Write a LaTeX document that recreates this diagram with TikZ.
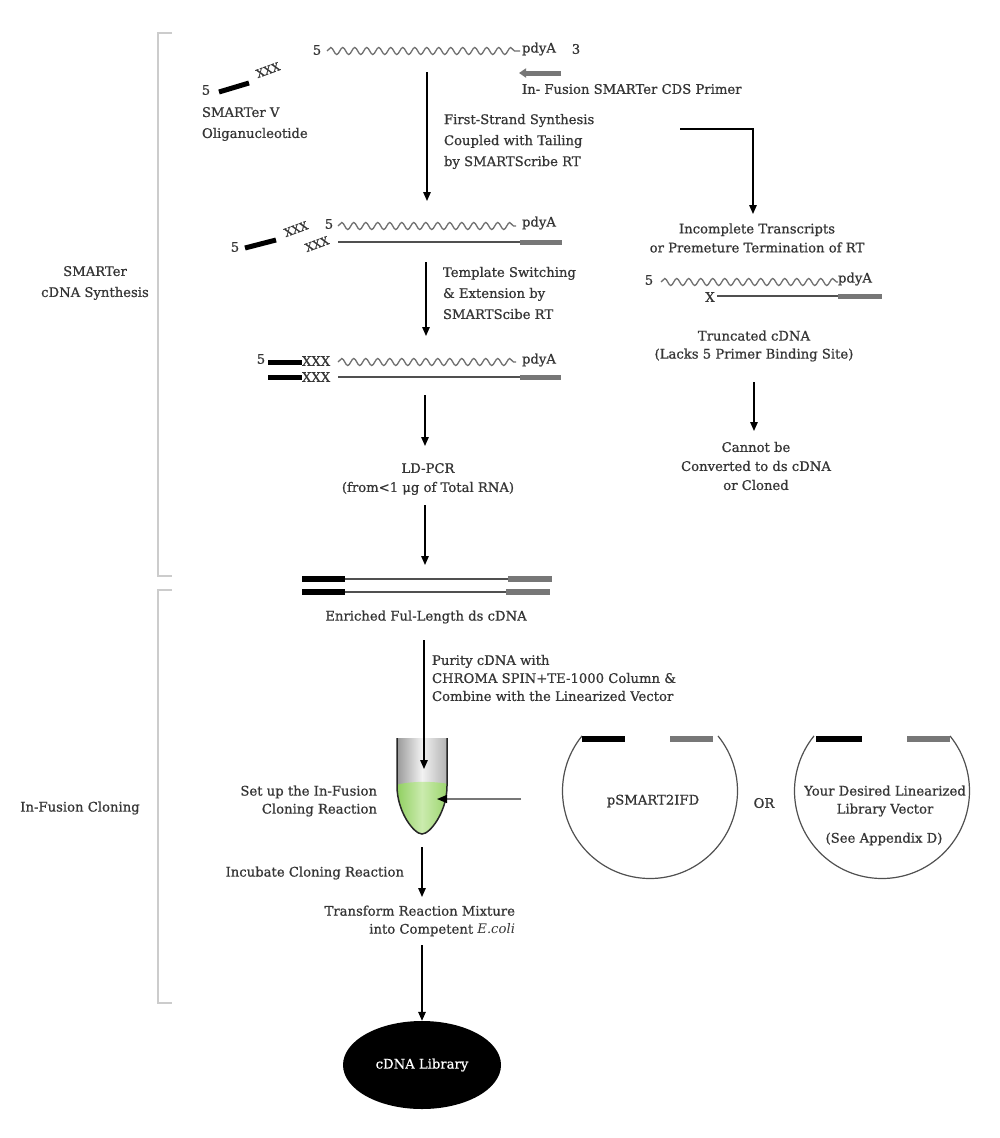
\documentclass[tikz,border=0pt]{standalone}
\usepackage{fontspec}
\setmainfont{DejaVu Serif}[BoldFont={DejaVu Serif}, BoldFeatures={FakeBold=0.7}]
\usetikzlibrary{arrows.meta,decorations.pathmorphing,shapes.geometric}
\definecolor{txt}{HTML}{353535}
\definecolor{wav}{HTML}{707070}
\definecolor{gbar}{HTML}{777777}
\definecolor{brk}{HTML}{CCCCCC}
\definecolor{strand}{HTML}{505050}
\definecolor{tubeA}{HTML}{969696}
\definecolor{tubeB}{HTML}{F2F2F2}
\definecolor{tubeC}{HTML}{B0B0B0}
\definecolor{liqA}{HTML}{8ECE5E}
\definecolor{liqB}{HTML}{CBEBAE}
\definecolor{liqC}{HTML}{9AD46C}
\begin{document}
\begin{tikzpicture}[x=1pt,y=-1pt,
  t/.style={font=\fontsize{13.2}{18}\selectfont\bfseries, text=txt, inner sep=0pt, outer sep=0pt},
  t21/.style={t, font=\fontsize{13.2}{21}\selectfont\bfseries},
  t19/.style={t, font=\fontsize{13.2}{19}\selectfont\bfseries},
  tx/.style={t, font=\fontsize{11.5}{13}\selectfont\bfseries, rotate=20},
  arr/.style={draw=black, line width=1.4pt, -{Triangle[length=9pt,width=7.5pt]}},
  wave/.style={draw=wav, line width=1.3pt, decorate, decoration={snake, segment length=12pt, amplitude=3.5pt}},
  bk/.style={line width=5pt, draw=black},
  gb/.style={line width=5pt, draw=gbar},
  strandline/.style={line width=1.2pt, draw=strand},
  brkt/.style={draw=brk, line width=2pt},
  ring/.style={draw=strand, line width=1.2pt},
]
\useasboundingbox (0,0) rectangle (1000,1138);
\fill[white] (0,0) rectangle (1000,1138);

% brackets and section labels
\draw[brkt] (172,33) -- (158,33) -- (158,576) -- (172,576);
\draw[brkt] (172,590) -- (158,590) -- (158,1003) -- (172,1003);
\node[t21, align=center] (secA) at (95,283) {SMARTer\\cDNA Synthesis};
\node[t] (secB) at (80,808) {In-Fusion Cloning};

% ---- top RNA
\node[t] (r5) at (317,50) {5};
\coordinate (rw1) at (327,51);
\coordinate (rw2) at (520,51);
\draw[wave] (rw1) -- (rw2);
\node[t, anchor=west] (rpoly) at (522,49) {pdyA};
\node[t] (r3) at (576,49) {3};
% CDS primer
\coordinate (cds1) at (561,73);
\coordinate (cds2) at (519,73);
\draw[gb, -{Triangle[length=7pt,width=9pt]}] (cds1) -- (cds2);
\node[t, anchor=west] (cdsl) at (522,89) {In- Fusion SMARTer CDS Primer};
% SMARTer V oligo
\node[t] (o5) at (206,90) {5};
\coordinate (ob1) at (219,92);
\coordinate (ob2) at (249,83);
\draw[bk] (ob1) -- (ob2);
\node[tx] (ox) at (268,70) {XXX};
\node[t21, align=left, anchor=west] (olab) at (202,124) {SMARTer V\\Oliganucleotide};

% step 1
\coordinate (a1s) at (427,72);
\coordinate (a1e) at (427,201);
\draw[arr] (a1s) -- (a1e);
\node[t21, align=left, anchor=west] (s1lab) at (444,141.5) {First-Strand Synthesis\\Coupled with Tailing\\by SMARTScribe RT};
\coordinate (b1) at (680,129);
\coordinate (b2) at (753,214);
\draw[arr] (b1) -| (b2);

% ---- stage 2
\node[t] (s2a5) at (235,247) {5};
\coordinate (s2b1) at (245,248);
\coordinate (s2b2) at (276,240);
\draw[bk] (s2b1) -- (s2b2);
\node[tx] (s2x1) at (296,229) {XXX};
\node[tx] (s2x2) at (317,244) {XXX};
\node[t] (s2t5) at (329,224) {5};
\coordinate (s2w1) at (338,226);
\coordinate (s2w2) at (516,226);
\draw[wave] (s2w1) -- (s2w2);
\node[t, anchor=west] (s2poly) at (522,223) {pdyA};
\coordinate (s2l1) at (338,242);
\coordinate (s2l2) at (520,242);
\coordinate (s2l3) at (562,242);
\draw[strandline] (s2l1) -- (s2l2);
\draw[gb] (s2l2) -- (s2l3);

% step 2
\coordinate (a2s) at (426,262);
\coordinate (a2e) at (426,336);
\draw[arr] (a2s) -- (a2e);
\node[t21, align=left, anchor=west] (s2lab) at (443,293) {Template Switching\\\& Extension by\\SMARTScibe RT};

% ---- stage 3
\node[t] (s3a5) at (261,359) {5};
\coordinate (s3b1) at (268,362);
\coordinate (s3b2) at (302,362);
\draw[bk] (s3b1) -- (s3b2);
\node[t, anchor=west] (s3x1) at (302,361) {XXX};
\coordinate (s3w1) at (338,362);
\coordinate (s3w2) at (516,362);
\draw[wave] (s3w1) -- (s3w2);
\node[t, anchor=west] (s3poly) at (522,360) {pdyA};
\coordinate (s3c1) at (268,377);
\coordinate (s3c2) at (302,377);
\draw[bk] (s3c1) -- (s3c2);
\node[t, anchor=west] (s3x2) at (302,377) {XXX};
\coordinate (s3l1) at (338,377);
\coordinate (s3l2) at (520,377);
\coordinate (s3l3) at (561,377);
\draw[strandline] (s3l1) -- (s3l2);
\draw[gb] (s3l2) -- (s3l3);

% LD-PCR
\coordinate (a3s) at (425,395);
\coordinate (a3e) at (425,446);
\draw[arr] (a3s) -- (a3e);
\node[t19, align=center] (ldpcr) at (428,479) {LD-PCR\\(from<1 μg of Total RNA)};
\coordinate (a4s) at (425,505);
\coordinate (a4e) at (425,565);
\draw[arr] (a4s) -- (a4e);

% enriched ds cDNA
\coordinate (e1a) at (302,579);
\coordinate (e1b) at (345,579);
\coordinate (e1c) at (508,579);
\coordinate (e1d) at (552,579);
\draw[bk, line width=6pt] (e1a) -- (e1b);
\draw[strandline] (e1b) -- (e1c);
\draw[gb, line width=6pt] (e1c) -- (e1d);
\coordinate (e2a) at (302,592);
\coordinate (e2b) at (345,592);
\coordinate (e2c) at (506,592);
\coordinate (e2d) at (550,592);
\draw[bk, line width=6pt] (e2a) -- (e2b);
\draw[strandline] (e2b) -- (e2c);
\draw[gb, line width=6pt] (e2c) -- (e2d);
\node[t] (enr) at (426,617) {Enriched Ful-Length ds cDNA};

% purify
\coordinate (a5s) at (424,640);
\coordinate (a5e) at (424,769);
\node[t, align=left, anchor=west] (pur) at (432,678) {Purity cDNA with\\CHROMA SPIN+TE-1000 Column \&\\Combine with the Linearized Vector};

% tube
\begin{scope}
  \clip (397,738) -- (397,786) .. controls (397,812) and (414,834) .. (422,834) .. controls (430,834) and (447,812) .. (447,786) -- (447,738) -- cycle;
  \shade[left color=tubeA, right color=tubeC, middle color=tubeB] (396,737) rectangle (448,785);
  \shade[left color=liqA, right color=liqC, middle color=liqB] (396,785) .. controls (410,781) and (434,781) .. (448,784) -- (448,836) -- (396,836) -- cycle;
\end{scope}
\draw[line width=1.5pt, draw=black!85] (397,738) -- (397,786) .. controls (397,812) and (414,834) .. (422,834) .. controls (430,834) and (447,812) .. (447,786) -- (447,738);
\draw[arr] (a5s) -- (a5e);
\coordinate (vin1) at (521,799);
\coordinate (vin2) at (437,799);
\draw[draw=gbar, line width=1.4pt, -{Triangle[length=10pt,width=8pt,color=black]}] (vin1) -- (vin2);
\node[t, align=right, anchor=east] (setup) at (377,801) {Set up the In-Fusion\\Cloning Reaction};

% incubate / transform
\coordinate (a6s) at (422,847);
\coordinate (a6e) at (422,897);
\draw[arr] (a6s) -- (a6e);
\node[t, anchor=east] (incub) at (404,873) {Incubate Cloning Reaction};
\node[t, align=right, anchor=east] (transf) at (515,921) {Transform Reaction Mixture\\into Competent \mdseries\itshape E.coli};
\node[ellipse, fill=black, minimum width=158pt, minimum height=88pt, inner sep=0pt, text=white, font=\fontsize{13.2}{15}\selectfont\bfseries] (lib) at (422,1065) {cDNA Library};
\coordinate (a7s) at (422,945);
\draw[arr] (a7s) -- (lib.north);

% plasmid 1
\coordinate (p1c) at (650,791);
\draw[ring] (p1c) ++(-39:87.5) arc[start angle=-39, end angle=219, radius=87.5];
\coordinate (p1a) at (582,739);
\coordinate (p1b) at (625,739);
\coordinate (p1d) at (670,739);
\coordinate (p1e) at (713,739);
\draw[bk, line width=6pt] (p1a) -- (p1b);
\draw[gb, line width=6pt] (p1d) -- (p1e);
\node[t] (p1lab) at (653,801) {pSMART2IFD};
\node[t] (orl) at (764,803) {OR};

% plasmid 2
\coordinate (p2c) at (882,791);
\draw[ring] (p2c) ++(-39:87.5) arc[start angle=-39, end angle=219, radius=87.5];
\coordinate (p2a) at (816,739);
\coordinate (p2b) at (862,739);
\coordinate (p2d) at (907,739);
\coordinate (p2e) at (950,739);
\draw[bk, line width=6pt] (p2a) -- (p2b);
\draw[gb, line width=6pt] (p2d) -- (p2e);
\node[t, align=center] (p2lab) at (885,801) {Your Desired Linearized\\Library Vector};
\node[t] (p2app) at (884,839) {(See Appendix D)};

% ---- right branch
\node[t19, align=center] (incomp) at (757,238) {Incomplete Transcripts\\or Premeture Termination of RT};
\node[t] (tr5) at (649,280) {5};
\coordinate (trw1) at (661,282);
\coordinate (trw2) at (838,282);
\draw[wave] (trw1) -- (trw2);
\node[t, anchor=west] (trpoly) at (838,279) {pdyA};
\node[t] (trx) at (710,297) {X};
\coordinate (trl1) at (717,296);
\coordinate (trl2) at (838,296);
\coordinate (trl3) at (882,296);
\draw[strandline] (trl1) -- (trl2);
\draw[gb] (trl2) -- (trl3);
\node[t, align=center] (trunc) at (754,346) {Truncated cDNA\\(Lacks 5 Primer Binding Site)};
\coordinate (a8s) at (754,382);
\coordinate (a8e) at (754,431);
\draw[arr] (a8s) -- (a8e);
\node[t19, align=center] (cannot) at (756,466) {Cannot be\\Converted to ds cDNA\\or Cloned};
\end{tikzpicture}
\end{document}
